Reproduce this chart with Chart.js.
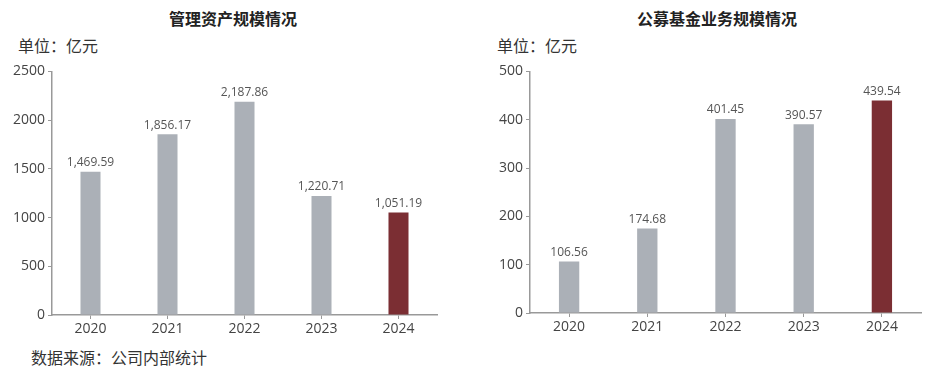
<!DOCTYPE html>
<html>
<head>
<meta charset="utf-8">
<script src="https://cdn.jsdelivr.net/npm/chart.js@4.4.1/dist/chart.umd.min.js"></script>
<style>
  body { margin: 0; background: #fff; width: 931px; height: 370px; position: relative; overflow: hidden;
         font-family: "Open Sans", "Noto Sans CJK SC", sans-serif; color: #333; }
  .txt { position: absolute; white-space: nowrap; font-family: "Noto Sans CJK SC", sans-serif; }
  .title { font-size: 16px; font-weight: bold; color: #222; transform: translateX(-50%); top: 6px; }
  .unit { font-size: 16px; color: #333; top: 33px; }
  .src { font-size: 16px; color: #333; top: 345px; left: 31px; }
  canvas { position: absolute; }
</style>
</head>
<body>
<div class="txt title" style="left:233px">管理资产规模情况</div>
<div class="txt title" style="left:717px">公募基金业务规模情况</div>
<div class="txt unit" style="left:18px">单位：亿元</div>
<div class="txt unit" style="left:497px">单位：亿元</div>
<div class="txt src">数据来源：公司内部统计</div>

<div style="position:absolute;left:0;top:60px;width:440px;height:285px"><canvas id="chartAum"></canvas></div>
<div style="position:absolute;left:478px;top:60px;width:446px;height:283px"><canvas id="chartFund"></canvas></div>

<script>
const years = ['2020', '2021', '2022', '2023', '2024'];
const aumValues = [1469.59, 1856.17, 2187.86, 1220.71, 1051.19];
const fundValues = [106.56, 174.68, 401.45, 390.57, 439.54];
const barColors = ['#abb0b7', '#abb0b7', '#abb0b7', '#abb0b7', '#7b2e33'];

const valueLabels = {
    id: 'valueLabels',
    afterDatasetsDraw(chart, args, opts) {
        const ctx = chart.ctx;
        const meta = chart.getDatasetMeta(0);
        ctx.save();
        ctx.font = '12px "Open Sans", sans-serif';
        ctx.fillStyle = '#555';
        ctx.textAlign = 'center';
        ctx.textBaseline = 'bottom';
        meta.data.forEach((bar, i) => {
            const v = chart.data.datasets[0].data[i];
            const txt = opts.comma
                ? v.toLocaleString('en-US', { minimumFractionDigits: 2, maximumFractionDigits: 2 })
                : v.toFixed(2);
            ctx.fillText(txt, bar.x, bar.y - 3);
        });
        ctx.restore();
    }
};

const makeChart = (id, values, max, step, yWidth, xHeight, comma) => {
    return new Chart(document.getElementById(id), {
        type: 'bar',
        data: {
            labels: years,
            datasets: [{
                data: values,
                backgroundColor: barColors,
                barPercentage: 1,
                categoryPercentage: 0.26
            }]
        },
        options: {
            responsive: true,
            maintainAspectRatio: false,
            animation: false,
            layout: { padding: { top: 10, right: 3, left: 0, bottom: 0 } },
            plugins: {
                legend: { display: false },
                tooltip: { enabled: false },
                valueLabels: { comma: comma }
            },
            scales: {
                x: {
                    grid: { drawOnChartArea: false, offset: false, tickLength: 4, color: '#999' },
                    border: { color: '#999', width: 1.5 },
                    ticks: { color: '#444', font: { size: 14, family: '"Open Sans", sans-serif' }, padding: 2 },
                    afterFit: (s) => { s.height = xHeight; }
                },
                y: {
                    min: 0,
                    max: max,
                    grid: { drawOnChartArea: false, tickLength: 4, color: '#999' },
                    border: { color: '#999', width: 1.5 },
                    ticks: {
                        stepSize: step,
                        color: '#444',
                        font: { size: 14, family: '"Open Sans", sans-serif' },
                        padding: 3,
                        callback: (v) => String(v)
                    },
                    afterFit: (s) => { s.width = yWidth; }
                }
            }
        },
        plugins: [valueLabels]
    });
};

makeChart('chartAum', aumValues, 2500, 500, 52, 30, true);
makeChart('chartFund', fundValues, 500, 100, 52, 30, false);
</script>
</body>
</html>
